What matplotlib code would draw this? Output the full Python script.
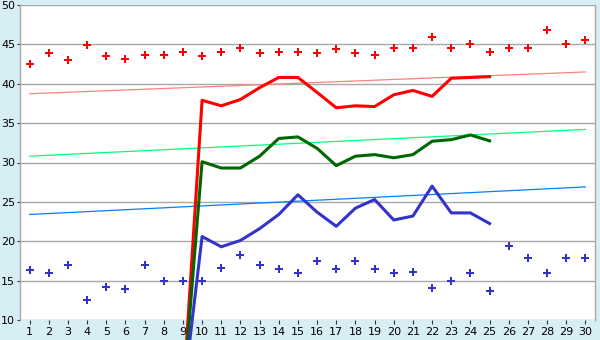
import numpy as np
import matplotlib
matplotlib.use("Agg")
import matplotlib.pyplot as plt

# x categories
days = np.arange(1, 31)

# scatter points (top = red, bottom = blue)
red_pts = [42.5, 43.85, 43.0, 44.9, 43.5, 43.1, 43.6, 43.7, 44.0, 43.5,
           44.0, 44.6, 43.85, 44.0, 44.0, 43.85, 44.4, 43.85, 43.7, 44.5,
           44.6, 46.0, 44.6, 45.1, 44.0, 44.5, 44.6, 46.8, 45.0, 45.5]
blue_pts = [16.4, 16.0, 17.0, 12.6, 14.2, 14.0, 17.0, 15.0, 15.0, 15.0,
            16.65, 18.2, 17.0, 16.5, 16.0, 17.5, 16.5, 17.5, 16.5, 16.0,
            16.1, 14.1, 15.0, 16.0, 13.7, 19.45, 17.9, 16.0, 17.9, 17.9]

# thick lines, days 9..25
line_days = np.arange(9, 26)
red_line = [0, 37.9, 37.2, 38.0, 39.5, 40.8, 40.8, 38.9, 36.95, 37.2,
            37.1, 38.6, 39.15, 38.4, 40.7, 40.8, 40.9]
green_line = [0, 30.1, 29.3, 29.3, 30.8, 33.05, 33.25, 31.8, 29.6, 30.8,
              31.0, 30.6, 31.0, 32.7, 32.9, 33.5, 32.75]
blue_line = [0, 20.6, 19.3, 20.1, 21.6, 23.4, 25.9, 23.7, 21.9, 24.2,
             25.3, 22.7, 23.2, 27.0, 23.6, 23.6, 22.25]

# trend lines (value at day 1 and day 30)
trend_days = [1, 30]
red_trend = [38.73, 41.5]
green_trend = [30.8, 34.2]
blue_trend = [23.4, 26.9]

bg = '#D8EEF5'
fig = plt.figure(figsize=(6, 3.4), dpi=100, facecolor=bg)
ax = fig.add_axes([20/600, 20/340, 575/600, 315/340])
ax.set_facecolor('white')

ax.plot(trend_days, red_trend, color='#FF8080', lw=0.9, zorder=3)
ax.plot(trend_days, green_trend, color='#00FF80', lw=0.9, zorder=3)
ax.plot(trend_days, blue_trend, color='#0080FF', lw=0.9, zorder=3)

ax.plot(line_days, red_line, color='#FF0000', lw=2.2, clip_on=False, zorder=4)
ax.plot(line_days, green_line, color='#006600', lw=2.2, clip_on=False, zorder=4)
ax.plot(line_days, blue_line, color='#3333CC', lw=2.2, clip_on=False, zorder=4)

ax.plot(days, red_pts, 'P', color='#FF0000', ms=5.3, mew=0, zorder=5)
ax.plot(days, blue_pts, 'P', color='#3333CC', ms=5.3, mew=0, zorder=5)

ax.set_xlim(0.5, 30.5)
ax.set_ylim(10, 50)
ax.set_xticks(days)
ax.set_yticks(np.arange(10, 51, 5))
ax.yaxis.grid(True, color='#A8A8A8', lw=1)
ax.set_axisbelow(True)

for s in ['top', 'bottom']:
    ax.spines[s].set_visible(False)
for s in ['left', 'right']:
    ax.spines[s].set_color('#A8A8A8')
    ax.spines[s].set_linewidth(1)

ax.tick_params(axis='both', labelsize=8, length=2.5, width=0.8,
               color='#333333', pad=1)
ax.tick_params(axis='x', length=3, pad=2)

fig.savefig('out.png', dpi=100, facecolor=bg)
